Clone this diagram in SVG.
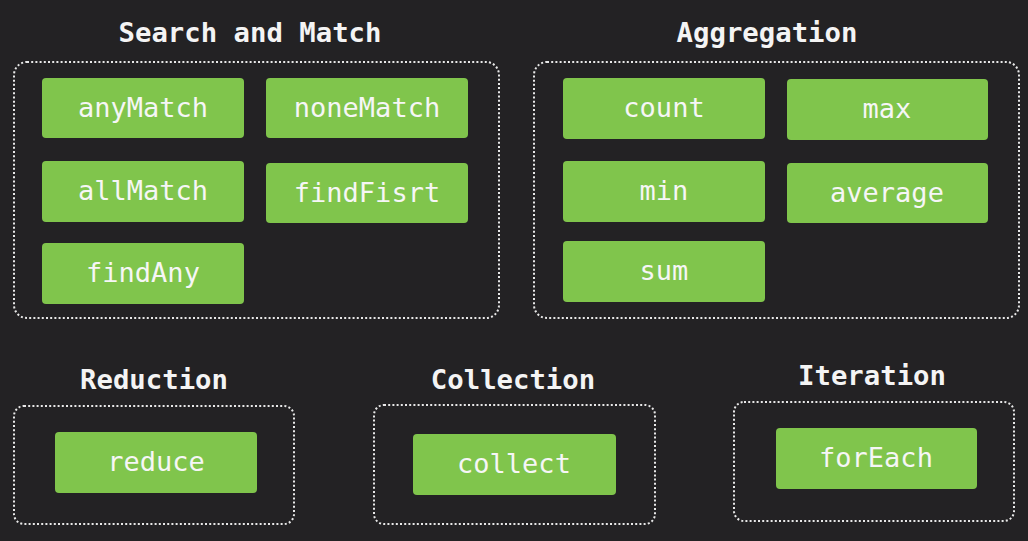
<svg xmlns="http://www.w3.org/2000/svg" width="1028" height="541" viewBox="0 0 1028 541">
  <defs>
    <style>
      .bg { fill: #232224; }
      .group { fill: none; stroke: #e8e8e8; stroke-width: 2; stroke-dasharray: 2 2.2; }
      .op { fill: #80c54c; }
      .title { font-family: "DejaVu Sans Mono", "Liberation Mono", monospace; font-size: 27.3px; font-weight: bold; fill: #f4f4f4; text-anchor: middle; }
      .label { font-family: "DejaVu Sans Mono", "Liberation Mono", monospace; font-size: 27px; fill: #f6f6f6; text-anchor: middle; }
    </style>
  </defs>

  <rect class="bg" x="0" y="0" width="1028" height="541"/>

  <!-- Search and Match -->
  <g id="search-and-match">
    <text class="title" x="250" y="42">Search and Match</text>
    <rect class="group" x="14" y="62" width="485" height="256" rx="13"/>
    <g id="anyMatch"><rect class="op" x="42" y="78" width="202" height="60" rx="4"/><text class="label" x="143" y="117">anyMatch</text></g>
    <g id="noneMatch"><rect class="op" x="266" y="78" width="202" height="60" rx="4"/><text class="label" x="367" y="117">noneMatch</text></g>
    <g id="allMatch"><rect class="op" x="42" y="161" width="202" height="61" rx="4"/><text class="label" x="143" y="200">allMatch</text></g>
    <g id="findFisrt"><rect class="op" x="266" y="163" width="202" height="60" rx="4"/><text class="label" x="367" y="202">findFisrt</text></g>
    <g id="findAny"><rect class="op" x="42" y="243" width="202" height="61" rx="4"/><text class="label" x="143" y="282">findAny</text></g>
  </g>

  <!-- Aggregation -->
  <g id="aggregation">
    <text class="title" x="767" y="42">Aggregation</text>
    <rect class="group" x="534" y="62" width="485" height="256" rx="13"/>
    <g id="count"><rect class="op" x="563" y="78" width="202" height="61" rx="4"/><text class="label" x="664" y="117">count</text></g>
    <g id="max"><rect class="op" x="787" y="79" width="201" height="61" rx="4"/><text class="label" x="887" y="118">max</text></g>
    <g id="min"><rect class="op" x="563" y="161" width="202" height="61" rx="4"/><text class="label" x="664" y="200">min</text></g>
    <g id="average"><rect class="op" x="787" y="163" width="201" height="60" rx="4"/><text class="label" x="887" y="202">average</text></g>
    <g id="sum"><rect class="op" x="563" y="241" width="202" height="61" rx="4"/><text class="label" x="664" y="280">sum</text></g>
  </g>

  <!-- Reduction -->
  <g id="reduction">
    <text class="title" x="154" y="389">Reduction</text>
    <rect class="group" x="14" y="406" width="280" height="118" rx="10"/>
    <g id="reduce"><rect class="op" x="55" y="432" width="202" height="61" rx="4"/><text class="label" x="156" y="471">reduce</text></g>
  </g>

  <!-- Collection -->
  <g id="collection">
    <text class="title" x="513" y="389">Collection</text>
    <rect class="group" x="374" y="405" width="281" height="119" rx="10"/>
    <g id="collect"><rect class="op" x="413" y="434" width="203" height="61" rx="4"/><text class="label" x="514" y="473">collect</text></g>
  </g>

  <!-- Iteration -->
  <g id="iteration">
    <text class="title" x="872" y="385">Iteration</text>
    <rect class="group" x="734" y="402" width="280" height="119" rx="10"/>
    <g id="forEach"><rect class="op" x="776" y="428" width="201" height="61" rx="4"/><text class="label" x="876" y="467">forEach</text></g>
  </g>

  <g id="connectors"/>
</svg>
